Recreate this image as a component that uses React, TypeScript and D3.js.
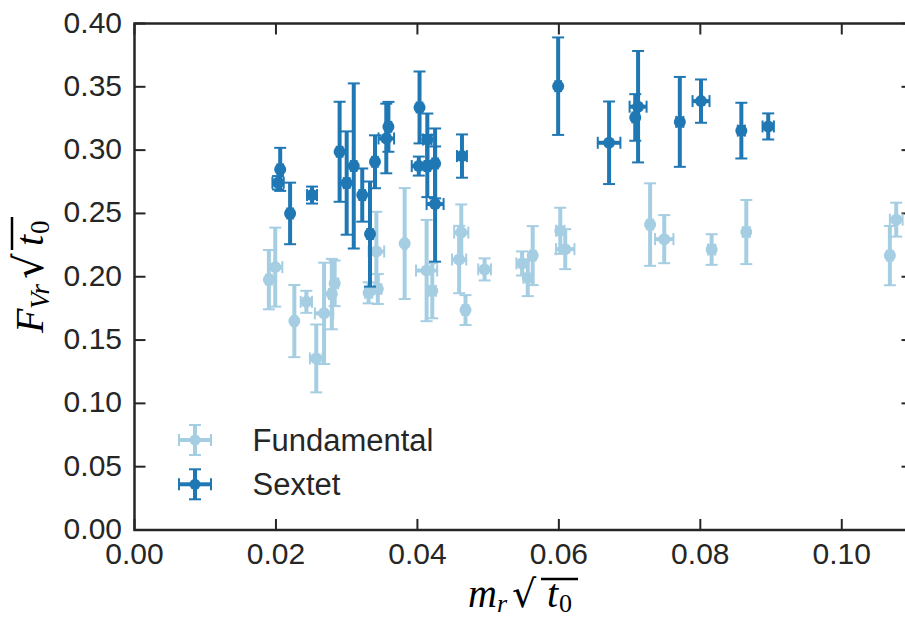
import React from "react";
import * as d3 from "d3";

// ---------- data ----------
const FUND_X = [0.0190, 0.0199, 0.0226, 0.0243, 0.0257, 0.0268, 0.0283, 0.0279, 0.0331, 0.0344, 0.0342, 0.0382, 0.0413, 0.0421, 0.0462, 0.0459, 0.0468, 0.0495, 0.0548, 0.0556, 0.0563, 0.0602, 0.0609, 0.0729, 0.0749, 0.0816, 0.0865, 0.1068, 0.1077];
const FUND_Y = [0.1977, 0.2076, 0.1650, 0.1802, 0.1355, 0.1711, 0.1948, 0.1863, 0.1873, 0.1903, 0.2199, 0.2262, 0.2049, 0.1889, 0.2349, 0.2136, 0.1737, 0.2058, 0.2105, 0.1992, 0.2167, 0.2363, 0.2218, 0.2412, 0.2297, 0.2215, 0.2353, 0.2167, 0.2451];
const FUND_XERR = [0.0004, 0.0010, 0.0003, 0.0008, 0.0009, 0.0013, 0.0005, 0.0004, 0.0005, 0.0005, 0.0011, 0.0003, 0.0015, 0.0005, 0.0010, 0.0010, 0.0004, 0.0009, 0.0008, 0.0006, 0.0004, 0.0006, 0.0013, 0.0004, 0.0013, 0.0005, 0.0005, 0.0004, 0.0009];
const FUND_YERR = [0.0234, 0.0312, 0.0285, 0.0087, 0.0268, 0.0400, 0.0180, 0.0278, 0.0083, 0.0118, 0.0314, 0.0438, 0.0400, 0.0217, 0.0222, 0.0266, 0.0118, 0.0087, 0.0095, 0.0145, 0.0233, 0.0182, 0.0158, 0.0326, 0.0190, 0.0121, 0.0253, 0.0234, 0.0134];

const SEXT_X = [0.0206, 0.0203, 0.0220, 0.0251, 0.0290, 0.0300, 0.0310, 0.0322, 0.0333, 0.0340, 0.0359, 0.0356, 0.0403, 0.0402, 0.0414, 0.0414, 0.0425, 0.0425, 0.0463, 0.0599, 0.0671, 0.0712, 0.0708, 0.0771, 0.0801, 0.0858, 0.0896];
const SEXT_Y = [0.2848, 0.2742, 0.2500, 0.2645, 0.2987, 0.2740, 0.2875, 0.2645, 0.2337, 0.2908, 0.3184, 0.3092, 0.3337, 0.2874, 0.3084, 0.2874, 0.2895, 0.2574, 0.2953, 0.3505, 0.3058, 0.3343, 0.3258, 0.3223, 0.3387, 0.3154, 0.3187];
const SEXT_XERR = [0.0004, 0.0008, 0.0004, 0.0007, 0.0004, 0.0004, 0.0004, 0.0004, 0.0004, 0.0004, 0.0004, 0.0011, 0.0004, 0.0010, 0.0006, 0.0004, 0.0004, 0.0012, 0.0007, 0.0004, 0.0016, 0.0012, 0.0004, 0.0005, 0.0012, 0.0005, 0.0008];
const SEXT_YERR = [0.0170, 0.0053, 0.0243, 0.0067, 0.0395, 0.0408, 0.0652, 0.0210, 0.0415, 0.0209, 0.0197, 0.0275, 0.0284, 0.0075, 0.0205, 0.0245, 0.0276, 0.0455, 0.0171, 0.0385, 0.0326, 0.0440, 0.0184, 0.0355, 0.0171, 0.0220, 0.0103];

const X_TICKS = [0, 0.02, 0.04, 0.06, 0.08, 0.1];
const Y_TICKS = [0, 0.05, 0.1, 0.15, 0.2, 0.25, 0.3, 0.35, 0.4];
const SERIES_NAMES = ["Fundamental", "Sextet"];
const COLORS = ["#a6cee3", "#1f78b4"];

// ---------- layout ----------
const W = 905;
const H = 620;
const LEFT = 134.5;
const RIGHT = 912.5;
const TOP = 23.5;
const BOTTOM = 530;
const INK = "#262626";
const SANS = "'Liberation Sans', Arial, sans-serif";
const SERIF = "'Liberation Serif', 'DejaVu Serif', serif";

const x = d3.scaleLinear().domain([0, 0.11]).range([LEFT, RIGHT]);
const y = d3.scaleLinear().domain([0, 0.4]).range([BOTTOM, TOP]);
const fmt = d3.format(".2f");

const BAR_W = 4;
const CAP_W = 2;
const CAP_HALF = 6;
const R = 6;

function Series({ xs, ys, xe, ye, color }: { xs: number[]; ys: number[]; xe: number[]; ye: number[]; color: string }) {
  const pts = xs.map((v, i) => ({ cx: x(v), cy: y(ys[i]), x0: x(v - xe[i]), x1: x(v + xe[i]), y0: y(ys[i] - ye[i]), y1: y(ys[i] + ye[i]) }));
  return (
    <g>
      {pts.map((p, i) => (
        <g key={"b" + i} stroke={color} strokeWidth={BAR_W}>
          <line x1={p.cx} x2={p.cx} y1={p.y0} y2={p.y1} />
          <line x1={p.x0} x2={p.x1} y1={p.cy} y2={p.cy} />
        </g>
      ))}
      {pts.map((p, i) => (
        <g key={"c" + i} stroke={color} strokeWidth={CAP_W}>
          <line x1={p.cx - CAP_HALF} x2={p.cx + CAP_HALF} y1={p.y0} y2={p.y0} />
          <line x1={p.cx - CAP_HALF} x2={p.cx + CAP_HALF} y1={p.y1} y2={p.y1} />
          <line x1={p.x0} x2={p.x0} y1={p.cy - CAP_HALF} y2={p.cy + CAP_HALF} />
          <line x1={p.x1} x2={p.x1} y1={p.cy - CAP_HALF} y2={p.cy + CAP_HALF} />
        </g>
      ))}
      {pts.map((p, i) => (
        <circle key={"m" + i} cx={p.cx} cy={p.cy} r={R} fill={color} />
      ))}
    </g>
  );
}

function LegendItem({ cx, cy, color, label }: { cx: number; cy: number; color: string; label: string }) {
  const hx = 16;
  const hy = 15;
  return (
    <g>
      <g stroke={color} strokeWidth={BAR_W}>
        <line x1={cx - hx} x2={cx + hx} y1={cy} y2={cy} />
        <line x1={cx} x2={cx} y1={cy - hy} y2={cy + hy} />
      </g>
      <g stroke={color} strokeWidth={CAP_W}>
        <line x1={cx - hx} x2={cx - hx} y1={cy - CAP_HALF} y2={cy + CAP_HALF} />
        <line x1={cx + hx} x2={cx + hx} y1={cy - CAP_HALF} y2={cy + CAP_HALF} />
        <line x1={cx - CAP_HALF} x2={cx + CAP_HALF} y1={cy - hy} y2={cy - hy} />
        <line x1={cx - CAP_HALF} x2={cx + CAP_HALF} y1={cy + hy} y2={cy + hy} />
      </g>
      <circle cx={cx} cy={cy} r={5.5} fill={color} />
      <text x={252.5} y={cy} dy="0.36em" fontFamily={SANS} fontSize={31} fill={INK}>
        {label}
      </text>
    </g>
  );
}

export default function App() {
  return (
    <svg width={W} height={H} style={{ position: "absolute", left: 0, top: 0, background: "#fff" }}>
      <rect x={0} y={0} width={W} height={H} fill="#fff" />
      {/* ticks */}
      <g stroke={INK} strokeWidth={2}>
        {X_TICKS.map((t) => (
          <g key={"xt" + t}>
            <line x1={x(t)} x2={x(t)} y1={BOTTOM} y2={BOTTOM - 11} />
            <line x1={x(t)} x2={x(t)} y1={TOP} y2={TOP + 11} />
          </g>
        ))}
        {Y_TICKS.map((t) => (
          <g key={"yt" + t}>
            <line x1={LEFT} x2={LEFT + 11} y1={y(t)} y2={y(t)} />
            <line x1={RIGHT} x2={RIGHT - 11} y1={y(t)} y2={y(t)} />
          </g>
        ))}
      </g>
      {/* data */}
      <Series xs={FUND_X} ys={FUND_Y} xe={FUND_XERR} ye={FUND_YERR} color={COLORS[0]} />
      <Series xs={SEXT_X} ys={SEXT_Y} xe={SEXT_XERR} ye={SEXT_YERR} color={COLORS[1]} />
      {/* spines */}
      <rect x={LEFT} y={TOP} width={RIGHT - LEFT} height={BOTTOM - TOP} fill="none" stroke={INK} strokeWidth={2.5} />
      {/* tick labels */}
      <g fontFamily={SANS} fontSize={30} fill={INK}>
        {X_TICKS.map((t) => (
          <text key={"xl" + t} x={x(t)} y={BOTTOM + 33.5} textAnchor="middle">
            {fmt(t)}
          </text>
        ))}
        {Y_TICKS.map((t) => (
          <text key={"yl" + t} x={122} y={y(t)} dy="0.3em" textAnchor="end">
            {fmt(t)}
          </text>
        ))}
      </g>
      {/* legend */}
      <LegendItem cx={195} cy={440} color={COLORS[0]} label={SERIES_NAMES[0]} />
      <LegendItem cx={195} cy={484.3} color={COLORS[1]} label={SERIES_NAMES[1]} />
      {/* x label */}
      <g fontFamily={SERIF} fontStyle="italic" fill="#000">
        <text x={468} y={607} fontSize={40}>m</text>
        <text x={497} y={612} fontSize={26}>r</text>
        <text x={512} y={607} fontSize={38} fontStyle="normal" fontFamily="'DejaVu Serif', serif">√</text>
        <line x1={541} x2={578} y1={579} y2={579} stroke="#000" strokeWidth={2.5} />
        <text x={547} y={607} fontSize={40}>t</text>
        <text x={559} y={612} fontSize={26} fontStyle="normal">0</text>
      </g>
      {/* y label */}
      <g transform="translate(43, 277) rotate(-90)" fontFamily={SERIF} fontStyle="italic" fill="#000">
        <text x={-56} y={0} fontSize={40}>F</text>
        <text x={-32} y={6} fontSize={27}>Vr</text>
        <text x={-2} y={0} fontSize={40} fontStyle="normal" fontFamily="'DejaVu Serif', serif">√</text>
        <line x1={27} x2={60} y1={-31} y2={-31} stroke="#000" strokeWidth={2.5} />
        <text x={31} y={0} fontSize={40}>t</text>
        <text x={43} y={6} fontSize={27} fontStyle="normal">0</text>
      </g>
    </svg>
  );
}
